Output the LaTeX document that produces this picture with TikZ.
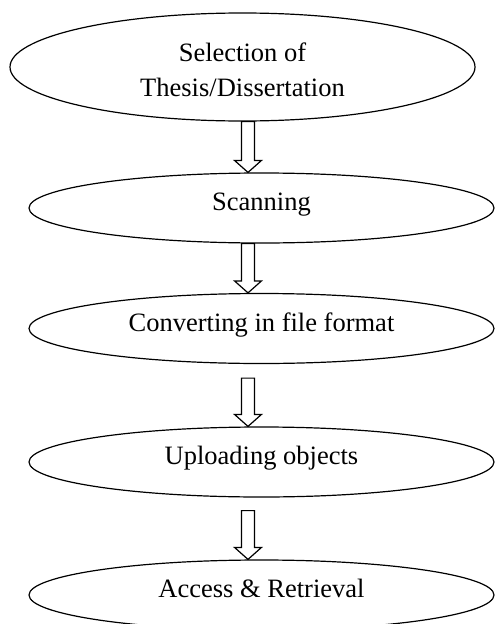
\documentclass[tikz,border=0pt]{standalone}
\usepackage{fontspec}
\setmainfont{Liberation Serif}
\usetikzlibrary{shapes.geometric,calc}

% hollow block arrow from #1 down to #2
\newcommand{\blockarrow}[2]{%
  \draw[line width=1.2pt, line join=miter] let \p1=(#1), \p2=(#2) in
    (\x1-6.5pt,\y1) -- (\x1-6.5pt,\y2+12pt) -- (\x1-13.5pt,\y2+12pt) -- (\x1,\y2)
    -- (\x1+13.5pt,\y2+12pt) -- (\x1+6.5pt,\y2+12pt) -- (\x1+6.5pt,\y1) -- cycle;}

\begin{document}
\begin{tikzpicture}[x=1pt, y=-1pt,
  every node/.style={font=\fontsize{26.5}{35}\selectfont},
  stage/.style={ellipse, draw, line width=1.2pt, inner sep=0pt,
    minimum width=465pt, minimum height=70pt}]
  \useasboundingbox (0,0) rectangle (495,624);

  % Steps of the process
  \node[stage, minimum height=108pt, align=center] (sel) at (242.5,67)
    {\rule{0pt}{1.12em}Selection of\\Thesis/Dissertation\rule[-0.2em]{0pt}{0.2em}};
  \node[stage, text height=0.7em, text depth=0.2em] (scan) at (261.5,208) {Scanning};
  \node[stage, text height=0.7em, text depth=0.2em] (conv) at (261.5,328.5) {Converting in file format};
  \node[stage, text height=0.7em, text depth=0.2em] (upl) at (261.5,462) {Uploading objects};
  \node[stage, text height=0.7em, text depth=0.2em] (acc) at (261.5,595) {Access \& Retrieval};

  % Arrows between the steps
  \coordinate (axis) at (248,0);
  \coordinate (a1) at (sel.south -| axis);
  \coordinate (a2) at (scan.south -| axis);
  \coordinate (a3) at ($(conv.south -| axis)+(0,14)$);
  \coordinate (a4) at ($(upl.south -| axis)+(0,13)$);
  \blockarrow{a1}{scan.north -| axis}
  \blockarrow{a2}{conv.north -| axis}
  \blockarrow{a3}{upl.north -| axis}
  \blockarrow{a4}{acc.north -| axis}
\end{tikzpicture}
\end{document}
